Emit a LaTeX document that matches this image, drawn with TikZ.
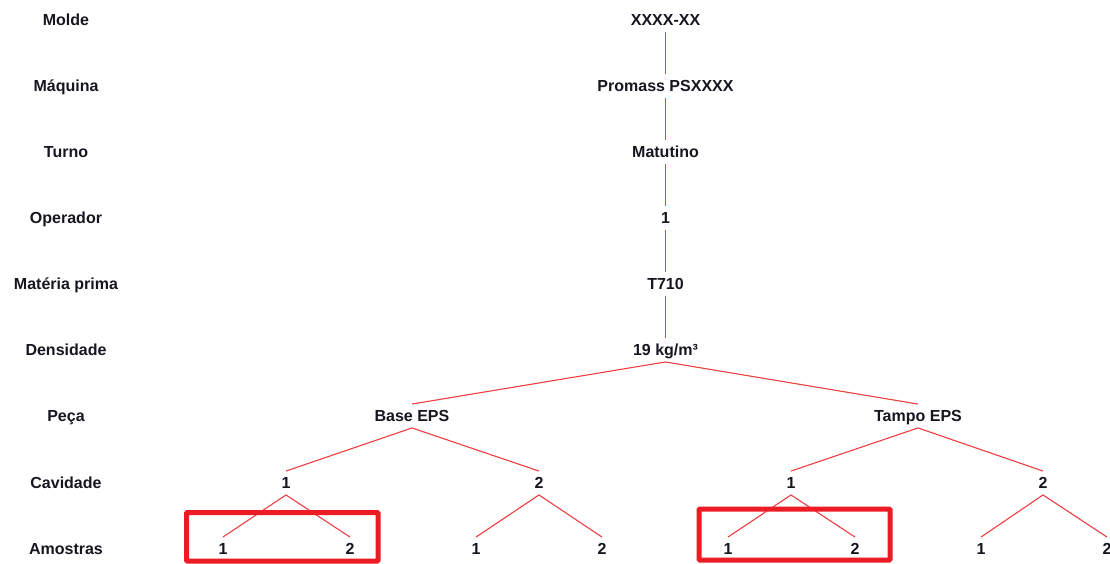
\documentclass[tikz,border=0pt]{standalone}
\usepackage{fontspec}
\setmainfont{Liberation Sans}
\usepackage{tikz}
\usepackage{xcolor}
\definecolor{LinkRed}{RGB}{238,62,66}
\definecolor{BoxRed}{RGB}{237,28,36}
\definecolor{TextDark}{RGB}{22,22,32}
\tikzset{
  rowlabel/.style={font=\fontsize{16}{19}\selectfont\bfseries, text=TextDark,
    inner xsep=0pt, inner ysep=6pt, text height=11.5pt, text depth=0pt},
  treenode/.style={rowlabel},
  link/.style={draw=LinkRed, line width=1.1pt},
  pick/.style={draw=BoxRed, line width=5pt, rounded corners=1pt}
}

\begin{document}
\begin{tikzpicture}[x=1pt,y=-1pt]
  \useasboundingbox (0,0) rectangle (1110,564);
  % row labels
  \node[rowlabel] (labmolde) at (66,20) {Molde};
  \node[rowlabel] (labmaquina) at (66,86) {Máquina};
  \node[rowlabel] (labturno) at (66,152) {Turno};
  \node[rowlabel] (laboperador) at (66,218) {Operador};
  \node[rowlabel] (labmateria) at (66,284) {Matéria prima};
  \node[rowlabel] (labdensidade) at (66,350) {Densidade};
  \node[rowlabel] (labpeca) at (66,416) {Peça};
  \node[rowlabel] (labcavidade) at (66,483) {Cavidade};
  \node[rowlabel] (labamostras) at (66,549) {Amostras};
  % trunk
  \node[treenode] (molde) at (665.5,20) {XXXX-XX};
  \node[treenode] (maquina) at (665.5,86) {Promass PSXXXX};
  \node[treenode] (turno) at (665.5,152) {Matutino};
  \node[treenode] (operador) at (665.5,218) {1};
  \node[treenode] (materia) at (665.5,284) {T710};
  \node[treenode] (densidade) at (665.5,350) {19 kg/m³};
  % parts
  \node[treenode] (base) at (412,416) {Base EPS};
  \node[treenode] (tampo) at (918,416) {Tampo EPS};
  % cavities
  \node[treenode] (base1) at (286,483) {1};
  \node[treenode] (base2) at (539,483) {2};
  \node[treenode] (tampo1) at (791,483) {1};
  \node[treenode] (tampo2) at (1043,483) {2};
  % samples
  \node[treenode] (base11) at (223,549) {1};
  \node[treenode] (base12) at (350,549) {2};
  \node[treenode] (base21) at (476,549) {1};
  \node[treenode] (base22) at (602,549) {2};
  \node[treenode] (tampo11) at (728,549) {1};
  \node[treenode] (tampo12) at (855,549) {2};
  \node[treenode] (tampo21) at (981,549) {1};
  \node[treenode] (tampo22) at (1107,549) {2};

  \draw[link] (molde.south) -- (maquina.north);
  \draw[link] (maquina.south) -- (turno.north);
  \draw[link] (turno.south) -- (operador.north);
  \draw[link] (operador.south) -- (materia.north);
  \draw[link] (materia.south) -- (densidade.north);
  \draw[link] (densidade.south) -- (base.north);
  \draw[link] (densidade.south) -- (tampo.north);
  \draw[link] (base.south) -- (base1.north);
  \draw[link] (base.south) -- (base2.north);
  \draw[link] (tampo.south) -- (tampo1.north);
  \draw[link] (tampo.south) -- (tampo2.north);
  \draw[link] (base1.south) -- (base11.north);
  \draw[link] (base1.south) -- (base12.north);
  \draw[link] (base2.south) -- (base21.north);
  \draw[link] (base2.south) -- (base22.north);
  \draw[link] (tampo1.south) -- (tampo11.north);
  \draw[link] (tampo1.south) -- (tampo12.north);
  \draw[link] (tampo2.south) -- (tampo21.north);
  \draw[link] (tampo2.south) -- (tampo22.north);

  % selected samples
  \draw[pick] (186.5,512.5) rectangle (378,561);
  \draw[pick] (699,509) rectangle (890,560);
\end{tikzpicture}
\end{document}
